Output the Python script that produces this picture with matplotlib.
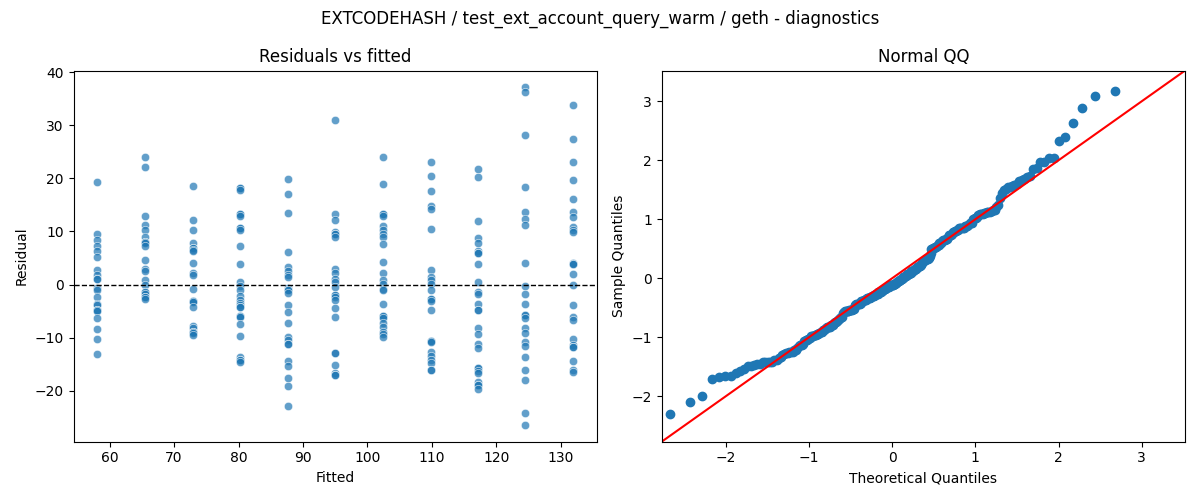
import numpy as np
import matplotlib
matplotlib.use("Agg")
import matplotlib.pyplot as plt
from statistics import NormalDist

# fitted value of each group
fitted_levels = [58.1, 65.5, 72.9, 80.3, 87.7, 95.0, 102.4, 109.8, 117.2, 124.5, 131.9]

# residuals per fitted group
res_g1 = [19.4, 9.6, 8.4, 7.25, 6.4, 5.2, 2.8, 1.75, 1.1, 1.1, -0.6, -1.1, -2.4, -3.6,
          -3.9, -4.7, -4.7, -4.9, -6.2, -8.4, -10.3, -13.1]
res_g2 = [24.0, 22.1, 12.9, 11.2, 10.3, 8.9, 8.1, 8.1, 7.8, 7.3, 4.7, 3.0, 2.6, 0.9,
          -0.1, -1.4, -1.4, -1.7, -2.4, -2.4, -2.7]
res_g3 = [18.6, 12.2, 10.3, 7.9, 6.9, 6.9, 6.6, 6.25, 4.1, 2.2, 1.75, -0.9, -3.1, -3.1,
          -3.3, -4.25, -7.75, -8.1, -8.9, -8.9, -9.2, -9.5]
res_g4 = [18.25, 18.25, 17.8, 13.3, 13.3, 13.0, 10.6, 10.6, 10.2, 7.2, 3.9, 0.4, -0.2,
          -1.1, -2.1, -2.9, -3.4, -3.75, -4.2, -4.2, -5.9, -5.9, -6.1, -7.5, -9.6,
          -13.7, -14.2, -14.2, -14.5]
res_g5 = [19.9, 17.1, 13.5, 6.2, 3.4, 2.6, 1.75, 1.4, -0.7, -1.1, -1.1, -1.6, -3.9,
          -5.2, -7.3, -9.8, -10.4, -11.1, -11.1, -14.4, -15.3, -17.6, -19.1, -22.8]
res_g6 = [30.9, 13.3, 12.2, 9.9, 9.5, 9.5, 9.0, 3.0, 2.2, 1.1, 0.5, -0.4, -2.0, -2.0,
          -2.3, -2.9, -4.5, -6.1, -12.9, -12.9, -15.1, -16.6, -17.0, -17.0]
res_g7 = [24.0, 18.9, 13.2, 13.2, 13.0, 11.1, 10.2, 9.6, 8.9, 7.7, 4.3, 2.1, 0.8, 0.2,
          -0.75, -1.1, -3.6, -5.9, -5.9, -6.2, -7.3, -7.9, -8.9, -9.3, -9.8]
res_g8 = [23.1, 20.4, 17.7, 14.75, 14.25, 10.5, 2.8, 1.4, 0.8, 0.2, -1.1, -2.8, -2.8,
          -3.1, -4.8, -10.6, -10.6, -10.9, -12.6, -13.4, -14.2, -14.8, -16.1, -16.1]
res_g9 = [21.75, 20.25, 11.9, 8.8, 7.9, 6.4, 6.0, 6.0, 3.9, 0.5, -1.4, -1.7, -3.6,
          -4.8, -4.8, -8.25, -9.3, -11.1, -12.0, -15.75, -15.75, -16.2, -16.7, -18.25,
          -18.9, -18.9, -19.6]
res_g10 = [37.1, 36.2, 28.2, 18.4, 13.75, 12.4, 11.25, 4.1, -0.3, -1.8, -3.6, -5.75,
           -5.75, -6.25, -8.25, -9.2, -10.75, -11.6, -13.7, -16.1, -17.9, -24.1, -26.4]
res_g11 = [33.75, 27.4, 23.1, 19.7, 16.1, 13.75, 12.8, 10.8, 10.3, 9.9, 4.1, 3.8, 3.8,
           1.9, -0.1, -3.9, -6.1, -6.6, -10.3, -11.4, -11.8, -11.8, -14.4, -16.1, -16.5]

groups = [res_g1, res_g2, res_g3, res_g4, res_g5, res_g6,
          res_g7, res_g8, res_g9, res_g10, res_g11]

fitted = np.concatenate([[f] * len(g) for f, g in zip(fitted_levels, groups)])
resid = np.concatenate(groups)

# QQ: standardized sorted residuals vs normal quantiles
n = len(resid)
sample_q = np.sort((resid - resid.mean()) / resid.std())
nd = NormalDist()
theo_q = np.array([nd.inv_cdf(i / (n + 1)) for i in range(1, n + 1)])

fig, (ax1, ax2) = plt.subplots(1, 2, figsize=(12, 5))

ax1.scatter(fitted, resid, s=36, color="#1f77b4", alpha=0.7,
            edgecolors="white", linewidths=0.5)
ax1.axhline(0, color="black", linestyle="--", linewidth=1)
ax1.set_title("Residuals vs fitted")
ax1.set_xlabel("Fitted")
ax1.set_ylabel("Residual")

ax2.plot(theo_q, sample_q, "o", color="#1f77b4", markersize=6)
lims = [-2.77, 3.52]
ax2.plot(lims, lims, color="red")
ax2.set_xlim(lims)
ax2.set_ylim(lims)
ax2.set_title("Normal QQ")
ax2.set_xlabel("Theoretical Quantiles")
ax2.set_ylabel("Sample Quantiles")

fig.suptitle("EXTCODEHASH / test_ext_account_query_warm / geth - diagnostics")
fig.tight_layout()
fig.savefig("out.png", dpi=100)
